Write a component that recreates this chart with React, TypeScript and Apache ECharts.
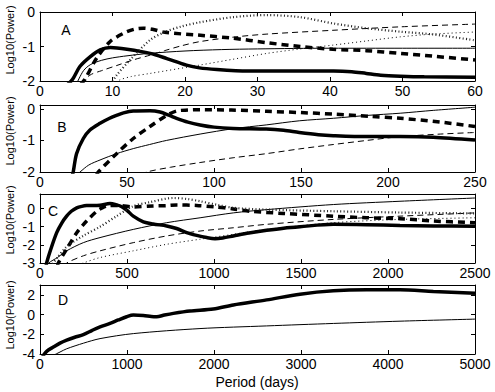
import React, { useEffect, useRef } from "react";
import * as echarts from "echarts";

// ---- Panel A (x 0..60) ----
const aThickSolid = [[3.8,-2.1],[4.5,-1.95],[5.5,-1.58],[6.9,-1.3],[8.3,-1.1],[9.7,-1.03],[12,-1.08],[15.2,-1.2],[17.5,-1.35],[20.2,-1.54],[22,-1.62],[24.4,-1.67],[27,-1.7],[31.3,-1.71],[36,-1.71],[40.5,-1.71],[43,-1.73],[45,-1.78],[47,-1.83],[49.7,-1.86],[53,-1.88],[60,-1.89]];
const aThickDashed = [[5.6,-2.1],[6.2,-1.95],[7.8,-1.34],[9.65,-0.86],[11.5,-0.62],[13,-0.5],[14.25,-0.47],[15.5,-0.5],[17.2,-0.59],[21.8,-0.67],[26.6,-0.76],[31.3,-0.89],[35.9,-1.0],[40.4,-1.08],[45,-1.12],[49.7,-1.2],[54.2,-1.28],[60,-1.39]];
const aThinSolid = [[5,-2.1],[6,-1.7],[7,-1.52],[8.5,-1.4],[10,-1.33],[12,-1.27],[15,-1.2],[20,-1.13],[25,-1.09],[30,-1.07],[40,-1.05],[50,-1.05],[60,-1.05]];
const aThinDashed = [[5.8,-2.1],[6.9,-1.83],[8.5,-1.7],[10.6,-1.55],[13,-1.38],[15.2,-1.25],[17.2,-1.12],[19.5,-0.98],[22,-0.86],[26.6,-0.73],[31.3,-0.64],[40.4,-0.53],[49.7,-0.43],[60,-0.35]];
const aThickDotted = [[9.8,-2.1],[10.5,-1.85],[12.6,-1.35],[15.2,-0.81],[17.2,-0.58],[19.5,-0.42],[22,-0.3],[26.6,-0.15],[31.3,-0.09],[35.9,-0.15],[40.4,-0.33],[45,-0.47],[49.7,-0.57],[54.2,-0.65],[60,-0.82]];
const aThinDotted = [[10,-2.1],[11,-1.97],[12.6,-1.87],[15.2,-1.78],[22,-1.54],[26.6,-1.37],[31.3,-1.2],[35.9,-1.07],[40.4,-0.96],[45,-0.84],[49.7,-0.72],[54.2,-0.64],[60,-0.58]];

// ---- Panel B (x 0..250) ----
const bThickSolid = [[18.5,-2.1],[19.1,-2],[21,-1.42],[24.9,-0.94],[28.7,-0.67],[34.5,-0.46],[40,-0.3],[44,-0.21],[48,-0.13],[53.6,-0.07],[63.2,-0.06],[69,-0.1],[74,-0.2],[78.5,-0.3],[85,-0.42],[92,-0.51],[100,-0.58],[111,-0.62],[130,-0.64],[140,-0.68],[149,-0.75],[160,-0.82],[168.6,-0.85],[188,-0.88],[207,-0.88],[226,-0.9],[250,-0.99]];
const bThickDashed = [[32.5,-2.1],[33.5,-2],[44,-1.42],[53.6,-0.94],[63.2,-0.56],[72.8,-0.21],[78.5,-0.07],[85,-0.04],[92,-0.03],[110,-0.04],[130,-0.08],[150,-0.12],[168.6,-0.17],[190,-0.24],[207,-0.3],[230,-0.42],[250,-0.56]];
const bThinSolid = [[21,-2.1],[23,-2],[28,-1.78],[34.5,-1.62],[44,-1.42],[53.6,-1.26],[63,-1.13],[72.8,-1.0],[92,-0.8],[111,-0.63],[130,-0.51],[149,-0.38],[168.6,-0.3],[188,-0.21],[207,-0.14],[226,-0.05],[250,0.05]];
const bThinDashed = [[58,-2.1],[61.3,-2],[75,-1.85],[92,-1.7],[111,-1.55],[130,-1.42],[149,-1.27],[168.6,-1.13],[188,-1.0],[207,-0.88],[230,-0.8],[250,-0.75]];

// ---- Panel C (x 0..2500) ----
const cThickSolid = [[35,-3.2],[38,-3],[60,-2.3],[96,-1.33],[125,-0.8],[153,-0.42],[180,-0.15],[211,0.04],[240,0.12],[268,0.16],[345,0.18],[402,0.27],[440,0.2],[470,0.1],[500,-0.1],[536,-0.42],[594,-0.73],[650,-0.85],[728,-0.96],[785,-1.1],[843,-1.33],[900,-1.48],[958,-1.6],[1006,-1.66],[1050,-1.62],[1111,-1.51],[1200,-1.35],[1303,-1.2],[1400,-1.08],[1494,-1.0],[1686,-0.87],[1877,-0.89],[2069,-0.93],[2261,-0.96],[2500,-0.97]];
const cThickDashed = [[100,-3.2],[105,-3],[153,-2.24],[211,-1.33],[268,-0.69],[326,-0.15],[360,0.05],[389,0.16],[460,0.16],[536,0.09],[650,0.14],[728,0.16],[785,0.2],[900,0.17],[1006,0.09],[1111,-0.02],[1207,-0.15],[1398,-0.27],[1686,-0.42],[1877,-0.51],[2069,-0.56],[2261,-0.69],[2500,-0.78]];
const cThinSolid = [[40,-3.2],[50,-3],[100,-2.7],[153,-2.33],[249,-1.88],[345,-1.6],[536,-1.15],[728,-0.78],[920,-0.51],[1111,-0.24],[1303,-0.06],[1686,0.22],[2069,0.4],[2500,0.58]];
const cThinDashed = [[140,-3.2],[153,-3],[250,-2.6],[345,-2.33],[536,-1.88],[728,-1.51],[920,-1.24],[1111,-1.06],[1303,-0.87],[1686,-0.6],[2069,-0.42],[2500,-0.24]];
const cThickDotted = [[60,-3.2],[100,-2.7],[153,-2.1],[249,-1.5],[345,-1.0],[440,-0.42],[536,0.13],[632,0.35],[766,0.58],[850,0.52],[920,0.4],[1020,0.2],[1111,0.04],[1303,-0.06],[1686,-0.15],[2069,-0.22],[2500,-0.27]];
const cThinDotted = [[200,-3.2],[249,-3],[345,-2.7],[536,-2.33],[728,-1.97],[920,-1.69],[1111,-1.42],[1303,-1.15],[1686,-0.78],[2069,-0.6],[2500,-0.51]];

// ---- Panel D (x 0..5000) ----
const dThickSolid = [[30,-4.3],[38,-4.15],[80,-3.7],[153,-3.3],[230,-2.9],[307,-2.6],[400,-2.3],[498,-2.03],[600,-1.6],[690,-1.25],[805,-0.9],[900,-0.55],[996,-0.22],[1073,-0.05],[1188,-0.1],[1280,-0.2],[1341,-0.22],[1430,-0.05],[1533,0.12],[1724,0.36],[1992,0.56],[2222,0.97],[2605,1.49],[2989,2.07],[3372,2.41],[3755,2.51],[4138,2.51],[4521,2.34],[5000,2.17]];
const dThinSolid = [[130,-4.3],[153,-4.15],[230,-3.8],[307,-3.47],[500,-2.9],[690,-2.44],[1073,-1.93],[1839,-1.42],[2605,-1.15],[3372,-0.9],[4138,-0.67],[5000,-0.46]];

// ---- Axes ----
const panelNames = ["A", "B", "C", "D"];
const xMax = [60, 250, 2500, 5000];
const xStep = [10, 50, 500, 1000];
const yMin = [-2, -2, -3, -4];
const yMax = [0, 0.12, 0.8, 3];
const yStep = [1, 1, 1, 2];
const yTickLabels = [[-2, -1, 0], [-2, -1, 0], [-3, -2, -1, 0], [-4, -2, 0, 2]];
const yTitle = "Log10(Power)";
const xTitle = "Period (days)";

const FONT = "Liberation Sans, Arial, Helvetica, sans-serif";
const gridTops = [12, 105, 194, 285];
const gridHeights = [69, 67, 69, 69];
const yTitleCenters = [40, 131, 220, 315];
const letterPos = [[66, 30], [62, 127], [53, 211], [63, 300]];

const styles: Record<string, any> = {
  thickSolid: { width: 3.5, type: "solid", color: "#000" },
  thickDashed: { width: 3.5, type: [7, 5], color: "#000" },
  thinSolid: { width: 1, type: "solid", color: "#000" },
  thinDashed: { width: 1, type: [6, 4], color: "#000" },
  thickDotted: { width: 2.2, type: [1, 2.4], color: "#222" },
  thinDotted: { width: 1, type: [1, 3], color: "#000" },
};

const panels: [number, string, number[][]][] = [
  [0, "thickSolid", aThickSolid], [0, "thickDashed", aThickDashed], [0, "thinSolid", aThinSolid],
  [0, "thinDashed", aThinDashed], [0, "thickDotted", aThickDotted], [0, "thinDotted", aThinDotted],
  [1, "thickSolid", bThickSolid], [1, "thickDashed", bThickDashed], [1, "thinSolid", bThinSolid],
  [1, "thinDashed", bThinDashed],
  [2, "thickSolid", cThickSolid], [2, "thickDashed", cThickDashed], [2, "thinSolid", cThinSolid],
  [2, "thinDashed", cThinDashed], [2, "thickDotted", cThickDotted], [2, "thinDotted", cThinDotted],
  [3, "thickSolid", dThickSolid], [3, "thinSolid", dThinSolid],
];

export default function App() {
  const ref = useRef<HTMLDivElement>(null);
  useEffect(() => {
    if (!ref.current) return;
    const chart = echarts.init(ref.current, null, { renderer: "svg" });
    const grids = gridTops.map((t, i) => ({ left: 40, right: 20, top: t, height: gridHeights[i] }));
    const xAxes: any[] = [];
    const yAxes: any[] = [];
    for (let i = 0; i < 4; i++) {
      const common = {
        gridIndex: i, type: "value", min: 0, max: xMax[i], interval: xStep[i],
        axisLine: { show: true, onZero: false, lineStyle: { color: "#000", width: 1 } },
        axisTick: { show: true, inside: true, length: 4, lineStyle: { color: "#000" } },
        splitLine: { show: false },
      };
      xAxes.push({ ...common, position: "bottom",
        axisLabel: { color: "#000", fontSize: 14, fontFamily: FONT, margin: 3,
          formatter: (v: number) => String(Math.round(v)) } });
      xAxes.push({ ...common, position: "top", axisLabel: { show: false } });
      const ycommon = {
        gridIndex: i, type: "value", min: yMin[i], max: yMax[i], interval: yStep[i],
        axisLine: { show: true, onZero: false, lineStyle: { color: "#000", width: 1 } },
        axisTick: { show: true, inside: true, length: 4, lineStyle: { color: "#000" } },
        splitLine: { show: false },
      };
      const labels = yTickLabels[i];
      yAxes.push({ ...ycommon, position: "left",
        axisLabel: { color: "#000", fontSize: 14, fontFamily: FONT, margin: 5,
          formatter: (v: number) => (labels.some((l) => Math.abs(l - v) < 1e-9) ? String(Math.round(v)) : "") } });
      yAxes.push({ ...ycommon, position: "right", axisLabel: { show: false } });
    }
    const series = panels.map(([p, st, data]) => ({
      type: "line", xAxisIndex: p * 2, yAxisIndex: p * 2, data, showSymbol: false, symbol: "none",
      smooth: 0.3, clip: true, lineStyle: { ...styles[st], cap: "butt" }, silent: true,
    }));
    const graphic: any[] = [];
    for (let i = 0; i < 4; i++) {
      graphic.push({ type: "text", x: letterPos[i][0], y: letterPos[i][1],
        style: { text: panelNames[i], font: `14px ${FONT}`, fill: "#000", align: "center", verticalAlign: "middle" } });
      graphic.push({ type: "text", x: 10, y: yTitleCenters[i], rotation: Math.PI / 2,
        style: { text: yTitle, font: `11px ${FONT}`, fill: "#000", align: "center", verticalAlign: "middle" } });
    }
    graphic.push({ type: "text", x: 257, y: 382,
      style: { text: xTitle, font: `14px ${FONT}`, fill: "#000", align: "center", verticalAlign: "middle" } });
    chart.setOption({
      animation: false,
      backgroundColor: "#fff",
      grid: grids,
      xAxis: xAxes,
      yAxis: yAxes,
      series,
      graphic,
    });
    return () => chart.dispose();
  }, []);
  return <div ref={ref} style={{ position: "absolute", left: 0, top: 0, width: 495, height: 392 }} />;
}
